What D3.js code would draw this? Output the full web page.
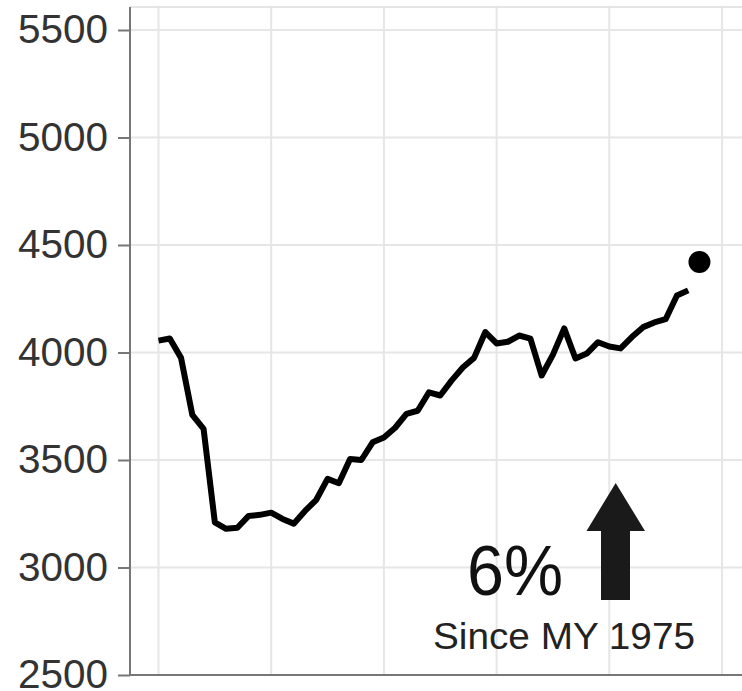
<!DOCTYPE html>
<html>
<head>
<meta charset="utf-8">
<script src="https://cdn.jsdelivr.net/npm/d3@7"></script>
<style>
  html, body { margin: 0; padding: 0; background: #fff; }
  svg { display: block; }
  text { font-family: "Liberation Sans", Arial, sans-serif; }
</style>
</head>
<body>
<svg id="chart" width="742" height="691"></svg>
<script>
// Model years
const years = [1975,1976,1977,1978,1979,1980,1981,1982,1983,1984,1985,1986,1987,1988,1989,
  1990,1991,1992,1993,1994,1995,1996,1997,1998,1999,2000,2001,2002,2003,2004,2005,2006,
  2007,2008,2009,2010,2011,2012,2013,2014,2015,2016,2017,2018,2019,2020,2021,2022];
// Average weight (lbs)
const weights = [4055,4065,3975,3710,3645,3210,3180,3185,3240,3245,3255,3226,3204,3263,3315,
  3412,3392,3505,3500,3582,3605,3650,3715,3729,3815,3800,3869,3930,3975,4095,4042,4050,
  4079,4065,3893,3990,4112,3972,3995,4048,4028,4019,4072,4118,4140,4155,4265,4289];
// Preliminary point
const prelimYear = [2023];
const prelimWeight = [4421];
const yTicks = [2500,3000,3500,4000,4500,5000,5500];
const xGrid = [1975,1985,1995,2005,2015,2025];
const annotationBig = "6%";
const annotationSmall = "Since MY 1975";

(function () {
const svg = d3.select("#chart");
const W = 742;
const plotLeft = 130, plotTop = 7, plotBottom = 675;

const x = d3.scaleLinear().domain([1975, 2025]).range([158.5, 722]);
const y = d3.scaleLinear().domain([2500, 5500]).range([675, 30]);

// grid
svg.append("g").selectAll("line").data(yTicks).join("line")
  .attr("x1", plotLeft).attr("x2", W)
  .attr("y1", d => y(d)).attr("y2", d => y(d))
  .attr("stroke", "#e6e6e6").attr("stroke-width", 2);
svg.append("g").selectAll("line").data(xGrid).join("line")
  .attr("x1", d => x(d)).attr("x2", d => x(d))
  .attr("y1", plotTop).attr("y2", plotBottom)
  .attr("stroke", "#e6e6e6").attr("stroke-width", 2);

// top border
svg.append("line").attr("x1", plotLeft).attr("x2", W).attr("y1", plotTop).attr("y2", plotTop)
  .attr("stroke", "#dcdcdc").attr("stroke-width", 1.5);

// y axis
const yAxis = d3.axisLeft(y).tickValues(yTicks).tickSize(12).tickPadding(10).tickFormat(d3.format("d"));
const gy = svg.append("g").attr("transform", `translate(${plotLeft},0)`).call(yAxis);
gy.select(".domain").remove();
gy.selectAll(".tick line").attr("stroke", "#777").attr("stroke-width", 2);
gy.selectAll(".tick text").attr("font-size", 40.5).attr("fill", "#333")
  .attr("font-family", "'Liberation Sans', Arial, sans-serif");
svg.append("line").attr("x1", plotLeft).attr("x2", plotLeft).attr("y1", plotTop).attr("y2", plotBottom + 1)
  .attr("stroke", "#777").attr("stroke-width", 2);
// x axis baseline
svg.append("line").attr("x1", plotLeft).attr("x2", W).attr("y1", plotBottom).attr("y2", plotBottom)
  .attr("stroke", "#777").attr("stroke-width", 2);

// line
const data = years.map((yr, i) => ({yr, w: weights[i]}));
const line = d3.line().x(d => x(d.yr)).y(d => y(d.w));
svg.append("path").datum(data).attr("d", line)
  .attr("fill", "none").attr("stroke", "#000").attr("stroke-width", 6)
  .attr("stroke-linejoin", "round");

// preliminary dot
svg.append("g").selectAll("circle").data(prelimYear).join("circle")
  .attr("cx", d => x(d)).attr("cy", (d, i) => y(prelimWeight[i])).attr("r", 11)
  .attr("fill", "#000");

// annotation
svg.append("text").attr("x", 563).attr("y", 595).attr("text-anchor", "end")
  .attr("font-size", 70).attr("fill", "#111")
  .attr("textLength", 96).attr("lengthAdjust", "spacingAndGlyphs")
  .text(annotationBig);
svg.append("text").attr("x", 433).attr("y", 649)
  .attr("font-size", 37).attr("fill", "#222")
  .attr("textLength", 262).attr("lengthAdjust", "spacingAndGlyphs")
  .text(annotationSmall);

// arrow
const arrow = [[615.7,483],[645,531],[630,531],[630,600],[601,600],[601,531],[586.5,531]];
svg.append("path").attr("d", "M" + arrow.map(p => p.join(",")).join("L") + "Z")
  .attr("fill", "#1a1a1a");
})();
</script>
</body>
</html>
